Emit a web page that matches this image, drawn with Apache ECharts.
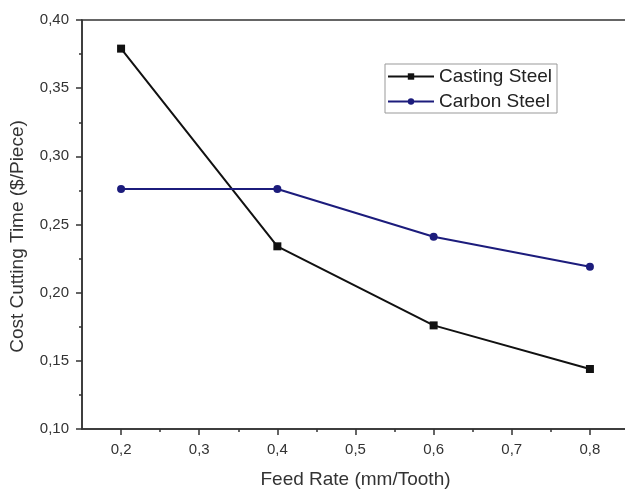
<!DOCTYPE html>
<html>
<head>
<meta charset="utf-8">
<script src="https://cdn.jsdelivr.net/npm/echarts@6/dist/echarts.min.js"></script>
<style>
  html, body { margin: 0; padding: 0; background: #fff; }
  #chart { width: 625px; height: 489px; }
</style>
</head>
<body>
<div id="chart"></div>
<script>
  // data
  const feedRate = [0.2, 0.4, 0.6, 0.8];
  const castingSteel = [0.379, 0.234, 0.176, 0.144];
  const carbonSteel = [0.276, 0.276, 0.241, 0.219];
  const xMajorTicks = [0.2, 0.3, 0.4, 0.5, 0.6, 0.7, 0.8];
  const xMinorTicks = [0.25, 0.35, 0.45, 0.55, 0.65, 0.75];

  const font = 'Liberation Sans, Arial, sans-serif';
  const comma = (v, d) => v.toFixed(d).replace('.', ',');

  const chart = echarts.init(document.getElementById('chart'));
  chart.setOption({
    animation: false,
    // plot runs past the right edge of the picture, like the cropped original
    grid: {
      left: 82, top: 20, width: 547, bottom: 60,
      outerBoundsMode: 'none',
      show: true, borderColor: '#333', borderWidth: 1.5
    },
    legend: {
      orient: 'vertical',
      left: 385, top: 64,
      padding: [3, 5, 2, 2],
      itemGap: 6,
      itemWidth: 46,
      itemHeight: 8,
      backgroundColor: '#fff',
      borderColor: '#999',
      borderWidth: 1,
      textStyle: { fontFamily: font, fontSize: 19, lineHeight: 19, color: '#222' },
      data: ['Casting Steel', 'Carbon Steel']
    },
    xAxis: [
      {
        type: 'value',
        min: 0.15, max: 0.85,
        name: 'Feed Rate (mm/Tooth)',
        nameLocation: 'middle',
        nameGap: 41,
        nameTextStyle: { fontFamily: font, fontSize: 19, color: '#333' },
        axisLine: { show: true, onZero: false, lineStyle: { color: '#333', width: 1.5 } },
        axisTick: { show: true, inside: false, length: 6, customValues: xMajorTicks, lineStyle: { color: '#333', width: 1.5 } },
        axisLabel: {
          customValues: xMajorTicks, margin: 13,
          fontFamily: font, fontSize: 15, color: '#333',
          formatter: v => comma(v, 1)
        },
        splitLine: { show: false }
      },
      {
        type: 'value',
        position: 'bottom',
        min: 0.15, max: 0.85,
        axisLine: { show: false },
        axisTick: { show: true, inside: false, length: 3, customValues: xMinorTicks, lineStyle: { color: '#333', width: 1.5 } },
        axisLabel: { show: false },
        splitLine: { show: false }
      }
    ],
    yAxis: {
      type: 'value',
      min: 0.1, max: 0.4, interval: 0.05,
      name: 'Cost Cutting Time ($/Piece)',
      nameLocation: 'middle',
      nameGap: 55,
      nameTextStyle: { fontFamily: font, fontSize: 19, color: '#333', padding: [0, 24, 0, 0] },
      axisLine: { show: true, onZero: false, lineStyle: { color: '#333', width: 1.5 } },
      axisTick: { show: true, inside: false, length: 6, lineStyle: { color: '#333', width: 1.5 } },
      minorTick: { show: true, splitNumber: 2, length: 3, lineStyle: { color: '#333', width: 1.5 } },
      axisLabel: {
        margin: 13, fontFamily: font, fontSize: 15, color: '#333',
        formatter: v => comma(v, 2)
      },
      splitLine: { show: false }
    },
    series: [
      {
        name: 'Casting Steel',
        type: 'line',
        data: feedRate.map((x, i) => [x, castingSteel[i]]),
        symbol: 'rect',
        symbolSize: 8,
        color: '#111',
        lineStyle: { width: 2, color: '#111' }
      },
      {
        name: 'Carbon Steel',
        type: 'line',
        data: feedRate.map((x, i) => [x, carbonSteel[i]]),
        symbol: 'circle',
        symbolSize: 8,
        color: '#1c1c7c',
        lineStyle: { width: 2, color: '#1c1c7c' }
      }
    ]
  });
</script>
</body>
</html>
